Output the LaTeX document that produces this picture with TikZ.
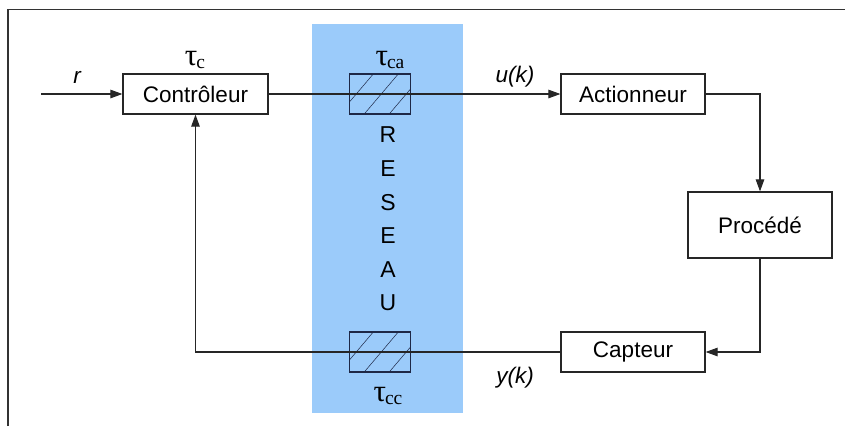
\documentclass[tikz,border=0pt]{standalone}
\usepackage{fontspec}
\setmainfont{Liberation Sans}
\newfontfamily\taufont{Liberation Serif}
\usetikzlibrary{arrows.meta}
\definecolor{netblue}{RGB}{155,203,250}
\definecolor{hatchc}{RGB}{30,40,70}
\tikzset{
  blockbox/.style={draw=black!85, line width=1.2pt, fill=white, inner sep=0pt,
    minimum width=145pt, minimum height=40pt,
    font=\fontsize{22.5}{26}\selectfont},
  hatchbox/.style={draw=hatchc, line width=1.1pt, inner sep=0pt,
    minimum width=61pt, minimum height=40pt,
    path picture={
      \foreach \s in {-60,-35,...,90}{
        \draw[hatchc, line width=0.5pt]
          ([xshift=\s pt]path picture bounding box.south west) --
          ([xshift=\s pt+34pt]path picture bounding box.north west);
      }}},
  conn/.style={draw=black!85, line width=1.1pt},
  arr/.style={conn, -{Triangle[length=12pt,width=8.5pt]}},
  lbl/.style={inner sep=0pt, font=\fontsize{22.5}{26}\selectfont\itshape},
  taul/.style={inner sep=0pt, font=\taufont},
  letter/.style={inner sep=0pt, font=\fontsize{23}{26}\selectfont},
}
\newcommand{\tausym}[1]{{\fontsize{31}{32}\selectfont\char"03C4}\kern-1pt\raisebox{-2.5pt}{\fontsize{19.5}{20}\selectfont #1}}
\begin{document}
\begin{tikzpicture}[x=1pt,y=-1pt]
\useasboundingbox (0,0) rectangle (845,426);
% frame
\draw[black!80, line width=1.4pt] (8,426) -- (8,9.5) -- (845,9.5);
% network band
\fill[netblue] (312,24) rectangle (463,413);
% blocks
\node[blockbox] (ctrl) at (195.5,94) {Contrôleur};
\node[blockbox, minimum width=144pt] (act) at (633,94) {Actionneur};
\node[blockbox, minimum width=144pt, minimum height=66pt] (proc) at (760,225) {Procédé};
\node[blockbox, minimum width=144pt] (cap) at (633,352) {Capteur};
% hatched delay boxes
\node[hatchbox] (hca) at (379.75,94) {};
\node[hatchbox] (hcc) at (379.75,352) {};
% RESEAU letters
\node[letter] (lR) at (388,134.5) {R};
\node[letter] (lE1) at (388,169) {E};
\node[letter] (lS) at (388,203) {S};
\node[letter] (lE2) at (388,236) {E};
\node[letter] (lA) at (388,269.5) {A};
\node[letter] (lU) at (388,303) {U};
% labels
\node[taul] (tc) at (195,60) {\tausym{c}};
\node[taul] (tca) at (390,60) {\tausym{ca}};
\node[taul] (tcc) at (388,396) {\tausym{cc}};
\node[lbl] (lr) at (77,77) {r};
\node[lbl] (luk) at (515,77) {u(k)};
\node[lbl] (lyk) at (515,378) {y(k)};
% connectors
\coordinate (in) at (41,94);
\draw[arr] (in) -- (ctrl.west);
\draw[arr] (ctrl.east) -- (act.west);
\draw[arr] (act.east) -| (proc.north);
\draw[arr] (proc.south) |- (cap.east);
\draw[arr] (cap.west) -| (ctrl.south);
\end{tikzpicture}
\end{document}
